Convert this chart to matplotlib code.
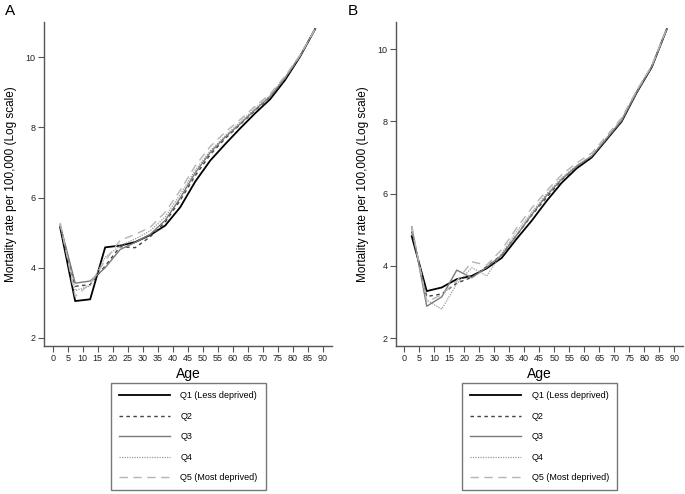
import matplotlib
matplotlib.use('Agg')
import matplotlib.pyplot as plt

plt.rcParams['font.family'] = ['Liberation Sans', 'DejaVu Sans']

# age group midpoints
ages = [2.5, 7.5, 12.5, 17.5, 22.5, 27.5, 32.5, 37.5, 42.5, 47.5,
        52.5, 57.5, 62.5, 67.5, 72.5, 77.5, 82.5, 87.5]

labels = ['Q1 (Less deprived)', 'Q2', 'Q3', 'Q4', 'Q5 (Most deprived)']

# panel A
a_q1 = [5.15, 3.05, 3.10, 4.58, 4.63, 4.73, 4.93, 5.20, 5.72, 6.45, 7.05, 7.52, 7.97, 8.40, 8.80, 9.35, 10.02, 10.80]
a_q2 = [5.20, 3.47, 3.52, 4.05, 4.60, 4.57, 4.88, 5.30, 5.92, 6.62, 7.22, 7.68, 8.08, 8.48, 8.86, 9.39, 10.03, 10.80]
a_q3 = [5.22, 3.56, 3.62, 4.00, 4.52, 4.72, 4.95, 5.35, 5.98, 6.70, 7.28, 7.72, 8.10, 8.50, 8.88, 9.41, 10.04, 10.80]
a_q4 = [5.20, 3.35, 3.48, 4.30, 4.62, 4.82, 5.05, 5.45, 6.08, 6.78, 7.33, 7.76, 8.15, 8.54, 8.91, 9.43, 10.05, 10.80]
a_q5 = [5.28, 3.18, 3.55, 4.20, 4.78, 4.95, 5.15, 5.58, 6.20, 6.90, 7.45, 7.86, 8.22, 8.60, 8.95, 9.46, 10.06, 10.80]

# panel B
b_q1 = [4.82, 3.30, 3.40, 3.63, 3.72, 3.93, 4.22, 4.75, 5.25, 5.80, 6.30, 6.70, 7.00, 7.50, 8.00, 8.80, 9.50, 10.55]
b_q2 = [4.95, 3.15, 3.22, 3.52, 3.68, 3.98, 4.30, 4.85, 5.40, 5.90, 6.38, 6.75, 7.03, 7.52, 8.02, 8.80, 9.50, 10.55]
b_q3 = [5.08, 2.88, 3.14, 3.88, 3.67, 3.96, 4.30, 4.85, 5.42, 5.95, 6.40, 6.76, 7.04, 7.53, 8.03, 8.82, 9.52, 10.55]
b_q4 = [5.05, 3.05, 2.80, 3.50, 3.95, 3.72, 4.35, 4.95, 5.48, 6.00, 6.44, 6.78, 7.05, 7.55, 8.05, 8.83, 9.52, 10.56]
b_q5 = [5.10, 3.00, 3.20, 3.58, 4.11, 4.02, 4.45, 5.05, 5.60, 6.08, 6.52, 6.85, 7.12, 7.60, 8.10, 8.86, 9.54, 10.57]

estilos = [
    dict(color='black', lw=1.3, ls='-'),
    dict(color='#404040', lw=1.0, ls=(0, (2.5, 2.5))),
    dict(color='#7a7a7a', lw=1.0, ls='-'),
    dict(color='#9a9a9a', lw=0.9, ls=(0, (1, 1))),
    dict(color='#b4b4b4', lw=1.0, ls=(0, (6, 4))),
]

fig = plt.figure(figsize=(6.85, 4.94), dpi=100)


def panel(rect, series, ylim, xlim, letra, letra_x, leg_x):
    ax = fig.add_axes(rect)
    for s, est, lab in zip(series, estilos, labels):
        ax.plot(ages, s, label=lab, **est)
    ax.set_xlim(*xlim)
    ax.set_ylim(*ylim)
    ax.set_xticks(range(0, 95, 5))
    ax.set_yticks([2, 4, 6, 8, 10])
    for lado in ['top', 'right']:
        ax.spines[lado].set_visible(False)
    for lado in ['left', 'bottom']:
        ax.spines[lado].set_color('#555555')
        ax.spines[lado].set_linewidth(1.0)
    ax.tick_params(direction='out', length=4, width=0.8, color='#555555',
                   labelsize=6.5, labelcolor='#222222', pad=2)
    ax.set_xlabel('Age', fontsize=10, labelpad=3)
    ax.set_ylabel('Mortality rate per 100,000 (Log scale)', fontsize=8.5, labelpad=6)
    fig.text(letra_x, 0.978, letra, fontsize=11, va='center', ha='left')
    leg = ax.legend(loc='upper center', bbox_to_anchor=(leg_x, 0.2247),
                    bbox_transform=fig.transFigure, fontsize=6.5, frameon=True,
                    fancybox=False, handlelength=5.6, handletextpad=1.2,
                    labelspacing=1.28, borderpad=0.9, borderaxespad=0)
    leg.get_frame().set_edgecolor('#555555')
    leg.get_frame().set_linewidth(1.0)
    return ax


panel([0.0642, 0.2996, 0.4204, 0.6559], [a_q1, a_q2, a_q3, a_q4, a_q5],
      (1.77, 11.0), (-2.9, 93.1), 'A', 0.007, 0.275)
panel([0.578, 0.2996, 0.419, 0.6559], [b_q1, b_q2, b_q3, b_q4, b_q5],
      (1.78, 10.75), (-2.77, 92.9), 'B', 0.508, 0.7876)

fig.savefig('out.png', dpi=100)
